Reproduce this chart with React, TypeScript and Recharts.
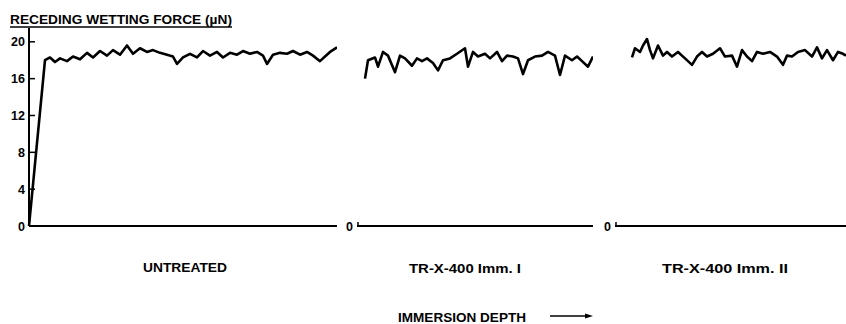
import React from "react"
import { LineChart, Line, XAxis, YAxis } from "recharts"

// depth positions (px along each baseline) and receding wetting force (µN)
const untreatedDepth = [0, 16, 21, 26, 31, 38, 44, 51, 58, 64, 71, 78, 84, 91, 98, 104, 111, 118, 124, 131, 138, 144, 148, 154, 161, 168, 174, 181, 188, 194, 201, 208, 214, 221, 228, 234, 238, 244, 251, 258, 264, 271, 278, 284, 291, 296, 301, 308]
const untreatedForce = [0, 18.0, 18.3, 17.8, 18.2, 17.9, 18.4, 18.1, 18.8, 18.3, 19.0, 18.5, 19.1, 18.6, 19.6, 18.7, 19.3, 18.9, 19.1, 18.8, 18.6, 18.4, 17.6, 18.3, 18.7, 18.3, 19.0, 18.5, 18.9, 18.3, 18.8, 18.6, 19.0, 18.7, 18.9, 18.5, 17.6, 18.6, 18.8, 18.7, 19.0, 18.6, 18.9, 18.5, 17.9, 18.4, 18.9, 19.4]

const imm1Depth = [8, 11, 18, 21, 26, 31, 38, 43, 48, 55, 60, 65, 70, 76, 81, 86, 93, 100, 108, 111, 116, 121, 128, 133, 140, 145, 150, 156, 161, 166, 171, 178, 185, 191, 198, 203, 208, 215, 220, 225, 231, 236]
const imm1Force = [16.0, 18.0, 18.3, 17.3, 18.9, 18.5, 16.7, 18.5, 18.2, 17.4, 18.2, 17.9, 18.2, 17.7, 16.9, 18.0, 18.2, 18.7, 19.3, 17.3, 18.9, 18.4, 18.7, 18.2, 18.9, 17.9, 18.5, 18.4, 18.2, 16.5, 18.0, 18.4, 18.5, 18.9, 18.5, 16.4, 18.5, 18.0, 18.4, 17.9, 17.3, 18.4]

const imm2Depth = [17, 20, 25, 28, 32, 35, 38, 43, 48, 52, 57, 63, 70, 77, 82, 87, 92, 98, 105, 110, 117, 122, 127, 132, 137, 142, 148, 155, 162, 168, 172, 177, 183, 190, 197, 202, 207, 212, 218, 223, 228, 231]
const imm2Force = [18.3, 19.3, 18.9, 19.6, 20.3, 19.1, 18.2, 19.6, 18.5, 18.9, 18.4, 18.9, 18.2, 17.5, 18.4, 18.9, 18.4, 18.7, 19.3, 18.4, 18.5, 17.3, 19.1, 18.4, 17.9, 18.9, 18.7, 18.9, 18.4, 17.5, 18.5, 18.4, 18.9, 19.1, 18.4, 19.4, 18.2, 19.1, 18.0, 18.9, 18.7, 18.5]

const forceTicks = [0, 4, 8, 12, 16, 20]
const panelLabels = ["UNTREATED", "TR-X-400 Imm. I", "TR-X-400 Imm. II"]

const toRows = (depth: number[], force: number[]) => depth.map((d, i) => ({ depth: d, force: force[i] }))

const font = "'Liberation Sans', Arial, sans-serif"

const MainTick = (props: any) => {
  const { x, y, payload } = props
  return (
    <g>
      <text x={x - 4} y={y} dy={4.5} textAnchor="end" fontSize={12.5} fontWeight="bold" fontFamily={font} fill="#000">
        {payload.value}
      </text>
      {payload.value !== 0 && <line x1={x} x2={x + 6} y1={y} y2={y} stroke="#000" strokeWidth={1.5} />}
    </g>
  )
}

const ZeroTick = (props: any) => {
  const { x, y } = props
  return (
    <g>
      <text x={x - 4} y={y} dy={4.5} textAnchor="end" fontSize={12.5} fontWeight="bold" fontFamily={font} fill="#000">
        0
      </text>
      <line x1={x + 1} x2={x + 1} y1={y} y2={y - 4} stroke="#000" strokeWidth={1.5} />
    </g>
  )
}

interface PanelProps {
  left: number
  axisWidth: number
  span: number
  rows: { depth: number; force: number }[]
  main?: boolean
}

const Panel: React.FC<PanelProps> = ({ left, axisWidth, span, rows, main }) => (
  <div style={{ position: "absolute", left, top: 0 }}>
    <LineChart width={axisWidth + span} height={240} data={rows} margin={{ top: 28, right: 0, bottom: 0, left: 0 }}>
      <XAxis
        dataKey="depth"
        type="number"
        domain={[0, span]}
        height={14}
        tick={false}
        tickLine={false}
        axisLine={{ stroke: "#000", strokeWidth: 2 }}
      />
      <YAxis
        type="number"
        domain={[0, 21.5]}
        ticks={main ? forceTicks : [0]}
        width={axisWidth}
        tickSize={0}
        tickMargin={0}
        tickLine={false}
        axisLine={main ? { stroke: "#000", strokeWidth: 2 } : false}
        tick={main ? <MainTick /> : <ZeroTick />}
        interval={0}
      />
      <Line
        type="linear"
        dataKey="force"
        stroke="#000"
        strokeWidth={2.6}
        strokeLinejoin="round"
        dot={false}
        isAnimationActive={false}
      />
    </LineChart>
  </div>
)

export default function App() {
  return (
    <div style={{ position: "absolute", left: 0, top: 0, width: 846, height: 324, background: "#fff", overflow: "hidden" }}>
      <Panel left={0} axisWidth={29} span={308} rows={toRows(untreatedDepth, untreatedForce)} main />
      <Panel left={337} axisWidth={20} span={236} rows={toRows(imm1Depth, imm1Force)} />
      <Panel left={595} axisWidth={20} span={231} rows={toRows(imm2Depth, imm2Force)} />
      <svg width={846} height={324} style={{ position: "absolute", left: 0, top: 0, pointerEvents: "none" }}>
        <g fontFamily={font} fontWeight="bold" fill="#000">
          <text x={10} y={24} fontSize={13} textLength={222} lengthAdjust="spacingAndGlyphs">
            RECEDING WETTING FORCE (µN)
          </text>
          <line x1={10} x2={232} y1={27} y2={27} stroke="#000" strokeWidth={1.3} />
          <text x={185} y={272} fontSize={13} textAnchor="middle" textLength={84} lengthAdjust="spacingAndGlyphs">
            {panelLabels[0]}
          </text>
          <text x={465} y={273} fontSize={13} textAnchor="middle" textLength={112} lengthAdjust="spacingAndGlyphs">
            {panelLabels[1]}
          </text>
          <text x={725} y={273} fontSize={13} textAnchor="middle" textLength={126} lengthAdjust="spacingAndGlyphs">
            {panelLabels[2]}
          </text>
          <text x={462} y={322} fontSize={12} textAnchor="middle" textLength={128} lengthAdjust="spacingAndGlyphs">
            IMMERSION DEPTH
          </text>
        </g>
        <line x1={550} x2={587} y1={316} y2={316} stroke="#000" strokeWidth={1.5} />
        <polygon points="585,313.5 593,316 585,318.5" fill="#000" />
      </svg>
    </div>
  )
}
